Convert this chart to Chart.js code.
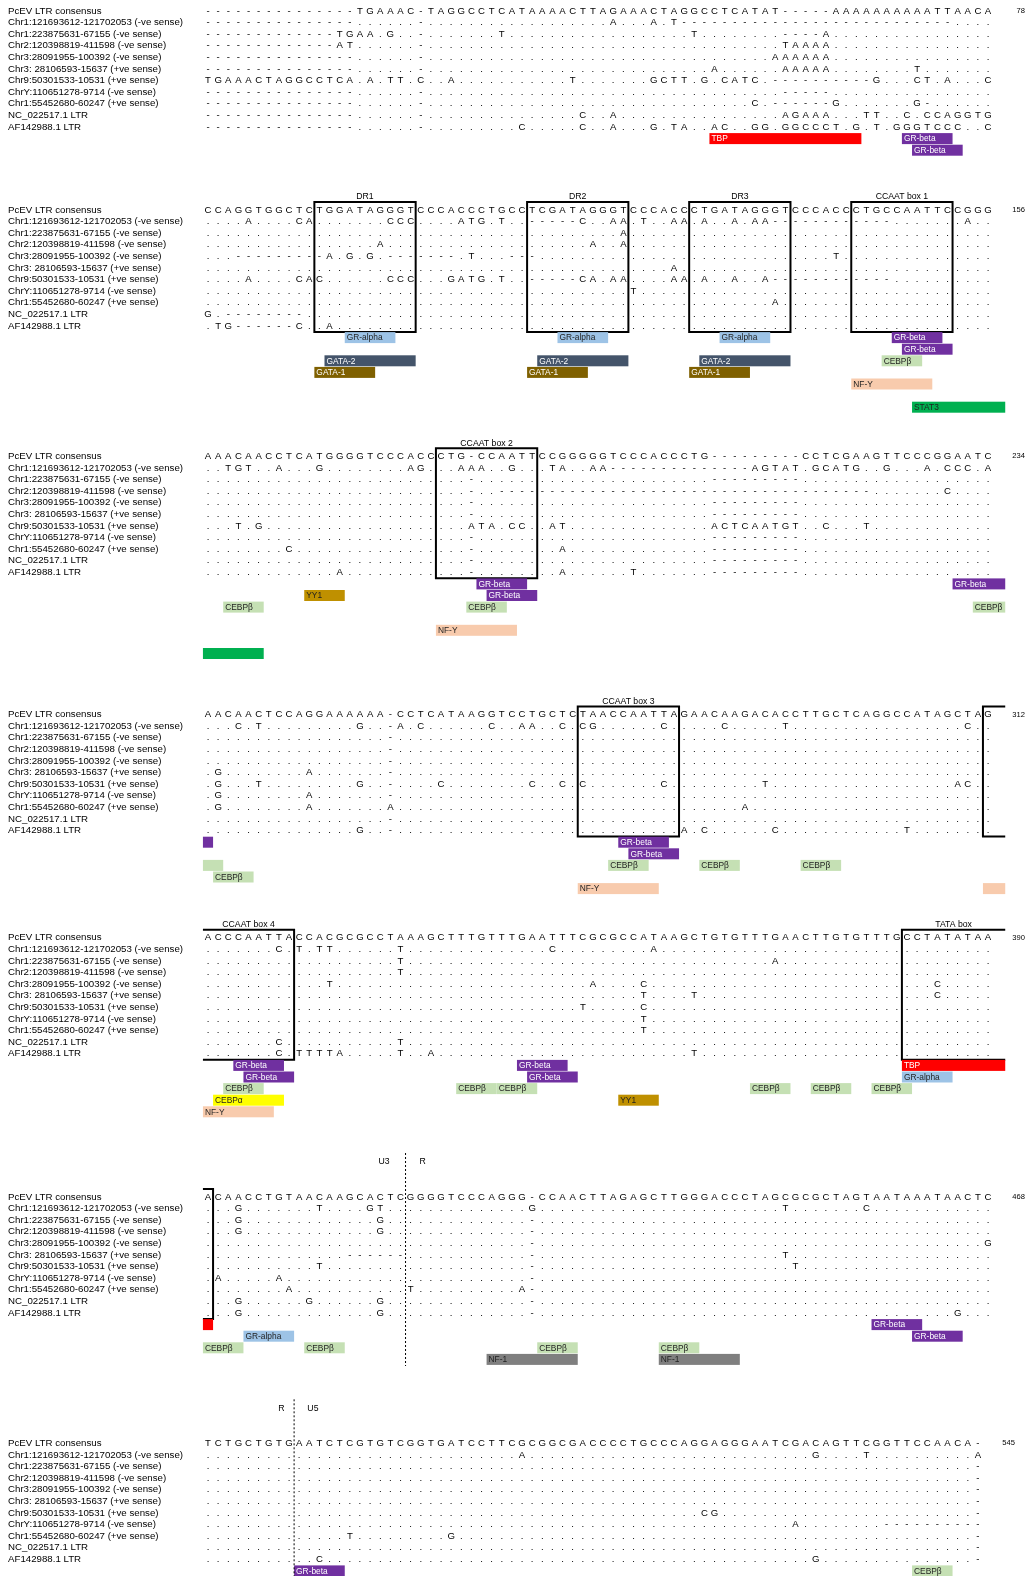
<!DOCTYPE html>
<html>
<head>
<meta charset="utf-8">
<title>PcEV LTR alignment</title>
<script src="https://cdn.jsdelivr.net/npm/chart.js@4.4.1/dist/chart.umd.min.js"></script>
<style>
  html, body { margin: 0; padding: 0; background: #ffffff; }
  #c { display: block; }
</style>
</head>
<body>
<canvas id="c" width="1030" height="1576"></canvas>
<script>
// ---- sequence names (one per alignment row) ----
const seqNames = [
  'PcEV LTR consensus',
  'Chr1:121693612-121702053 (-ve sense)',
  'Chr1:223875631-67155 (-ve sense)',
  'Chr2:120398819-411598 (-ve sense)',
  'Chr3:28091955-100392 (-ve sense)',
  'Chr3: 28106593-15637 (+ve sense)',
  'Chr9:50301533-10531 (+ve sense)',
  'ChrY:110651278-9714 (-ve sense)',
  'Chr1:55452680-60247 (+ve sense)',
  'NC_022517.1 LTR',
  'AF142988.1 LTR'
];

// alignment position printed at the end of each block
const blockEnds = [78, 156, 234, 312, 390, 468, 545];

// ---- alignment blocks: written in groups of ten columns ('.' = identical, '-' = gap) ----
const block1 = [
  '---------- -----TGAAA C-TAGGCCTC ATAAAACTTA GAAACTAGGC CTCATAT--- --AAAAAAAA AATTAACA',
  '---------- -----..... .-........ .......... A...A.T--- ---------- ---------- ----....',
  '---------- ---TGAA.G. .-.......T .......... ........T. .......--- -A........ ........',
  '---------- ---AT..... .-........ .......... .......... .......TAA AA........ ........',
  '---------- -----..... .-........ .......... .......... ......AAAA AA........ ........',
  '---------- -----..... .-........ .......... .......... A......AAA AA........ T.......',
  'TGAAACTAGG CCTCA.A.TT .C..A..... ......T... ....GCTT.G .CATC.---- ------G... CT.A...C',
  '---------- -----..... .-........ .......... .......... .......--- --........ ........',
  '---------- -----..... .-........ .......... .......... ....C.---- --G....... G-......',
  '---------- -----..... .-........ .......C.. A......... .......AGA AA...TT..C .CCAGGTG',
  '---------- -----..... .-........ .C.....C.. A...G.TA.. AC..GG.GGC CCT.G.T.GG GTCCC..C'
];
const block2 = [
  'CCAGGTGGCT CTGGATAGGG TCCCACCCTG CCTCGATAGG GTCCCACCCT GATAGGGTCC CACCCTGCCA ATTCCGGG',
  '....A....C A.......CC C....ATG.T ..-----C.. AA.T..AA.A ..A.AA---- --------.. .....A..',
  '.......... .......... .......... .......... .A........ .......... .......... ........',
  '.......... .......A.. .......... ........A. .A........ .......... .......... ........',
  '...------- --A.G.G.-- -----.T... ---....... .......... .......... ..T....... ........',
  '.......... .......... .......... .......... ......A... .......... .......... ........',
  '....A....C AC......CC C...GATG.T ..-----CA. AA....AA.A ..A..A---- --------.. ........',
  '.......... .......... .......... .......... ..T....... .......... .......... ........',
  '.......... .......... .......... .......... .......... ......A... .......... ........',
  'G.-------- .......... .......... .......... .......... .......... .......... ........',
  '.TG------C ..A....... .......... .......... .......... .......... .......... ........'
];
const block3 = [
  'AAACAACCTC ATGGGGTCCC ACCCTG-CCA ATTCCGGGGG TCCCACCCTG ---------C CTCGAAGTTC CCGGAATC',
  '..TGT..A.. .G........ AG...AAA.. G...TA..AA ---------- ----AGTAT. GCATG..G.. .A.CCC.A',
  '.......... .......... ......-... .......... .......... ---------. .......... ........',
  '.......... .......... ......-..- ---------- ---------- ---------- ------.... ...C....',
  '.......... .......... ......-... .......... .......... ---------. .......... ........',
  '.......... .......... ......-... .......... .......... ---------. .......... ........',
  '...T.G.... .......... ......ATA. CC..AT.... .......... ACTCAATGT. .C...T.... ........',
  '.......... .......... ......-... .......... .......... ---------. .......... ........',
  '........C. .......... ......-... .....A.... .......... ---------. .......... ........',
  '.......... .......... ......-... .......... .......... ---------. .......... ........',
  '.......... ...A...... ......-... .....A.... ..T....... ---------. .......... ........'
];
const block4 = [
  'AACAACTCCA GGAAAAAA-C CTCATAAGGT CCTGCTCTAA CCAATTAGAA CAAGACACCT TGCTCAGGCC ATAGCTAG',
  '...C.T.... .....G..-A .C......C. .AA..C.CG. .....C.... .C.....T.. .......... .....C..',
  '.......... ........-. .......... .......... .......... .......... .......... ........',
  '.......... ........-. .......... .......... .......... .......... .......... ........',
  '.......... ........-. .......... .......... .......... .......... .......... ........',
  '.G........ A.......-. .......... .......... .......... .......... .......... ........',
  '.G...T.... .....G..-. ...C...... ..C..C.C.. .....C.... .....T.... .......... ....AC..',
  '.G........ A.......-. .......... .......... .......... .......... .......... ........',
  '.G........ A.......A. .......... .......... .......... ...A...... .......... ........',
  '.......... ........-. .......... .......... .......... .......... .......... ........',
  '.......... .....G..-. .......... .......... .......A.C ......C... .........T ........'
];
const block5 = [
  'ACCCAATTAC CACGCGCCTA AAGCTTTGTT TGAATTTCGC GCCATAAGCT GTGTTTGAAC TTGTGTTTGC CTATATAA',
  '.......C.T .TT......T .......... ....C..... ....A..... .......... .......... ........',
  '.......... .........T .......... .......... .......... ......A... .......... ........',
  '.......... .........T .......... .......... .......... .......... .......... ........',
  '.......... ..T....... .......... ........A. ...C...... .......... .......... ..C.....',
  '.......... .......... .......... .......... ...T....T. .......... .......... ..C.....',
  '.......... .......... .......... .......T.. ...C...... .......... .......... ........',
  '.......... .......... .......... .......... ...T...... .......... .......... ........',
  '.......... .......... .......... .......... ...T...... .......... .......... ........',
  '.......C.. .........T .......... .......... .......... .......... .......... ........',
  '.......C.T TTTA.....T ..A....... .......... ........T. .......... .......... ........'
];
const block6 = [
  'ACAACCTGTA ACAAGCACTC GGGGTCCCAG GG-CCAACTT AGAGCTTGGG ACCCTAGCGC GCTAGTAATA AATAACTC',
  '...G...... .T....GT.. .......... ..G....... .......... .......T.. .....C.... ........',
  '...G...... .......G.. .......... ..-....... .......... .......... .......... ........',
  '...G...... .......G.. .......... ..-....... .......... .......... .......... ........',
  '.......... .......... .......... ..-....... .......... .......... .......... .......G',
  '.......... ....------ .......... ..-....... .......... .......T.. .......... ........',
  '.......... .T........ .......... ..-....... .......... ........T. .......... ........',
  '.A.....A.. .......... .......... ..-....... .......... .......... .......... ........',
  '........A. .......... T......... .A-....... .......... .......... .......... ........',
  '...G...... G......G.. .......... ..-....... .......... .......... .......... ........',
  '...G...... .......G.. .......... ..-....... .......... .......... .......... ....G...'
];
const block7 = [
  'TCTGCTGTGA ATCTCGTGTC GGTGATCCTT CGCGGCGACC CCTGCCCAGG AGGGAATCGA CAGTTCGGTT CCAACA-',
  '.......... .......... .......... .A........ .......... .......... G....T.... ......A',
  '.......... .......... .......... .......... .......... .......... .......... ......-',
  '.......... .......... .......... .......... .......... .......... .......... ......-',
  '.......... .......... .......... .......... .......... .......... .......... ......-',
  '.......... .......... .......... .......... .......... .......... .......... ......-',
  '.......... .......... .......... .......... .........C G......... .......... ......-',
  '.......... .......... .......... .......... .......... ........A. .......--- -------',
  '.......... ....T..... ....G..... .......... .......... .......... .......... ......-',
  '.......... .......... .......... .......... .......... .......... .......... ......-',
  '.......... .C........ .......... .......... .......... .......... G......... ......-'
];

// ---- boxed motifs (block index, first/last column, title; open side continues in next block) ----
const motifBoxes = [
  { block: 1, from: 11, to: 20, label: 'DR1' },
  { block: 1, from: 32, to: 41, label: 'DR2' },
  { block: 1, from: 48, to: 57, label: 'DR3' },
  { block: 1, from: 64, to: 73, label: 'CCAAT box 1' },
  { block: 2, from: 23, to: 32, label: 'CCAAT box 2' },
  { block: 3, from: 37, to: 46, label: 'CCAAT box 3' },
  { block: 3, from: 77, to: 77, label: '', open: 'right' },
  { block: 4, from: 0, to: 8, label: 'CCAAT box 4', open: 'left' },
  { block: 4, from: 69, to: 77, label: 'TATA box', open: 'right' },
  { block: 5, from: 0, to: 0, label: '', open: 'left' }
];

// ---- predicted transcription factor binding sites ----
// track = annotation line under a block; joins = site runs on from the previous / into the next block
const tfSites = [
  { block: 0, tf: 'TBP', from: 50, to: 64, track: 0 },
  { block: 0, tf: 'GR-beta', from: 69, to: 73, track: 0 },
  { block: 0, tf: 'GR-beta', from: 70, to: 74, track: 1 },

  { block: 1, tf: 'GR-alpha', from: 14, to: 18, track: 0 },
  { block: 1, tf: 'GATA-2', from: 12, to: 20, track: 2 },
  { block: 1, tf: 'GATA-1', from: 11, to: 16, track: 3 },
  { block: 1, tf: 'GR-alpha', from: 35, to: 39, track: 0 },
  { block: 1, tf: 'GATA-2', from: 33, to: 41, track: 2 },
  { block: 1, tf: 'GATA-1', from: 32, to: 37, track: 3 },
  { block: 1, tf: 'GR-alpha', from: 51, to: 55, track: 0 },
  { block: 1, tf: 'GATA-2', from: 49, to: 57, track: 2 },
  { block: 1, tf: 'GATA-1', from: 48, to: 53, track: 3 },
  { block: 1, tf: 'GR-beta', from: 68, to: 72, track: 0 },
  { block: 1, tf: 'GR-beta', from: 69, to: 73, track: 1 },
  { block: 1, tf: 'CEBPβ', from: 67, to: 70, track: 2 },
  { block: 1, tf: 'NF-Y', from: 64, to: 71, track: 4 },
  { block: 1, tf: 'STAT3', from: 70, to: 77, track: 6, joins: 'next' },

  { block: 2, tf: 'STAT3', from: 0, to: 5, track: 6, joins: 'prev' },
  { block: 2, tf: 'CEBPβ', from: 2, to: 5, track: 2 },
  { block: 2, tf: 'YY1', from: 10, to: 13, track: 1 },
  { block: 2, tf: 'GR-beta', from: 27, to: 31, track: 0 },
  { block: 2, tf: 'GR-beta', from: 28, to: 32, track: 1 },
  { block: 2, tf: 'CEBPβ', from: 26, to: 29, track: 2 },
  { block: 2, tf: 'NF-Y', from: 23, to: 30, track: 4 },
  { block: 2, tf: 'GR-beta', from: 74, to: 77, track: 0, joins: 'next' },
  { block: 2, tf: 'CEBPβ', from: 76, to: 77, track: 2, joins: 'next' },

  { block: 3, tf: 'GR-beta', from: 0, to: 0, track: 0, joins: 'prev' },
  { block: 3, tf: 'CEBPβ', from: 0, to: 1, track: 2, joins: 'prev' },
  { block: 3, tf: 'CEBPβ', from: 1, to: 4, track: 3 },
  { block: 3, tf: 'GR-beta', from: 41, to: 45, track: 0 },
  { block: 3, tf: 'GR-beta', from: 42, to: 46, track: 1 },
  { block: 3, tf: 'CEBPβ', from: 40, to: 43, track: 2 },
  { block: 3, tf: 'NF-Y', from: 37, to: 44, track: 4 },
  { block: 3, tf: 'CEBPβ', from: 49, to: 52, track: 2 },
  { block: 3, tf: 'CEBPβ', from: 59, to: 62, track: 2 },
  { block: 3, tf: 'NF-Y', from: 77, to: 77, track: 4, joins: 'next', quiet: true },

  { block: 4, tf: 'GR-beta', from: 3, to: 7, track: 0 },
  { block: 4, tf: 'GR-beta', from: 4, to: 8, track: 1 },
  { block: 4, tf: 'CEBPβ', from: 2, to: 5, track: 2 },
  { block: 4, tf: 'CEBPα', from: 1, to: 7, track: 3 },
  { block: 4, tf: 'NF-Y', from: 0, to: 6, track: 4 },
  { block: 4, tf: 'GR-beta', from: 31, to: 35, track: 0 },
  { block: 4, tf: 'GR-beta', from: 32, to: 36, track: 1 },
  { block: 4, tf: 'CEBPβ', from: 25, to: 28, track: 2 },
  { block: 4, tf: 'CEBPβ', from: 29, to: 32, track: 2 },
  { block: 4, tf: 'YY1', from: 41, to: 44, track: 3 },
  { block: 4, tf: 'CEBPβ', from: 54, to: 57, track: 2 },
  { block: 4, tf: 'CEBPβ', from: 60, to: 63, track: 2 },
  { block: 4, tf: 'CEBPβ', from: 66, to: 69, track: 2 },
  { block: 4, tf: 'TBP', from: 69, to: 77, track: 0, joins: 'next' },
  { block: 4, tf: 'GR-alpha', from: 69, to: 73, track: 1 },

  { block: 5, tf: 'TBP', from: 0, to: 0, track: 0, joins: 'prev' },
  { block: 5, tf: 'GR-alpha', from: 4, to: 8, track: 1 },
  { block: 5, tf: 'CEBPβ', from: 0, to: 3, track: 2 },
  { block: 5, tf: 'CEBPβ', from: 10, to: 13, track: 2 },
  { block: 5, tf: 'CEBPβ', from: 33, to: 36, track: 2 },
  { block: 5, tf: 'NF-1', from: 28, to: 36, track: 3 },
  { block: 5, tf: 'CEBPβ', from: 45, to: 48, track: 2 },
  { block: 5, tf: 'NF-1', from: 45, to: 52, track: 3 },
  { block: 5, tf: 'GR-beta', from: 66, to: 70, track: 0 },
  { block: 5, tf: 'GR-beta', from: 70, to: 74, track: 1 },

  { block: 6, tf: 'GR-beta', from: 9, to: 13, track: 0 },
  { block: 6, tf: 'CEBPβ', from: 70, to: 73, track: 0 }
];

// ---- U3 / R / U5 junctions (drawn between two columns) ----
const ltrBoundaries = [
  { block: 5, after: 19, left: 'U3', right: 'R' },
  { block: 6, after: 8, left: 'R', right: 'U5' }
];

// ---- styling ----
const tfColors = {
  'TBP': ['#ff0000', '#ffffff'],
  'GR-beta': ['#7030a0', '#ffffff'],
  'GR-alpha': ['#9dc3e6', '#1f1f1f'],
  'GATA-2': ['#44546a', '#ffffff'],
  'GATA-1': ['#7f6000', '#ffffff'],
  'CEBPβ': ['#c5e0b4', '#1f1f1f'],
  'CEBPα': ['#ffff00', '#1f1f1f'],
  'NF-Y': ['#f8cbad', '#1f1f1f'],
  'STAT3': ['#00b050', '#1f1f1f'],
  'YY1': ['#bf9000', '#1f1f1f'],
  'NF-1': ['#7f7f7f', '#1f1f1f']
};
const FONT = '"Liberation Sans", Arial, Helvetica, sans-serif';
const blockTop = [11, 210, 456.3, 714.6, 937.8, 1197, 1443.3];
const ROW = 11.6;
const OPEN_END = 1.7;                       // how far an open box / bar runs past the last column
const junctionLabelDx = [[-21.6, 17], [-12.7, 18.8]];

const blocks = [block1, block2, block3, block4, block5, block6, block7]
  .map(rows => rows.map(r => r.replace(/ /g, '')));

const alignmentPainter = {
  id: 'alignmentPainter',
  afterDraw(chart) {
    const { ctx } = chart;
    const xs = chart.scales.x, ys = chart.scales.y;
    const X = v => xs.getPixelForValue(v);
    const Y = v => ys.getPixelForValue(v);
    ctx.save();

    blocks.forEach((rows, b) => {
      const top = blockTop[b];
      // sequence names
      ctx.fillStyle = '#000';
      ctx.textBaseline = 'middle';
      ctx.textAlign = 'left';
      ctx.font = '9.7px ' + FONT;
      rows.forEach((_, r) => ctx.fillText(seqNames[r], 8, Y(top + r * ROW)));
      // residues
      ctx.textAlign = 'center';
      ctx.font = '9.6px ' + FONT;
      rows.forEach((seq, r) => {
        const cy = Y(top + r * ROW);
        for (let c = 0; c < seq.length; c++) {
          ctx.fillText(seq[c], X(c), cy);
        }
      });
      // position at block end
      ctx.textAlign = 'right';
      ctx.font = '7.6px ' + FONT;
      ctx.fillText(String(blockEnds[b]), X(rows[0].length - 1) + 37, Y(top));
    });

    // motif boxes
    ctx.strokeStyle = '#000';
    ctx.lineWidth = 2;
    motifBoxes.forEach(bx => {
      const top = blockTop[bx.block];
      const yT = Y(top - 8), yB = Y(top + 10 * ROW + 6);
      const xL = X(bx.from - 0.5);
      const xR = bx.open === 'right' ? X(bx.to + OPEN_END) : X(bx.to + 0.5);
      ctx.beginPath();
      ctx.moveTo(xL, yT); ctx.lineTo(xR, yT);
      ctx.moveTo(xL, yB); ctx.lineTo(xR, yB);
      if (bx.open !== 'left') { ctx.moveTo(xL, yT - 1); ctx.lineTo(xL, yB + 1); }
      if (bx.open !== 'right') { ctx.moveTo(xR, yT - 1); ctx.lineTo(xR, yB + 1); }
      ctx.stroke();
      if (bx.label) {
        ctx.fillStyle = '#000';
        ctx.textAlign = 'center';
        ctx.textBaseline = 'middle';
        ctx.font = '8.7px ' + FONT;
        ctx.fillText(bx.label, (xL + xR) / 2, Y(top - 13));
      }
    });

    // binding site bars
    ctx.textBaseline = 'middle';
    ctx.textAlign = 'left';
    ctx.font = '8.4px ' + FONT;
    tfSites.forEach(s => {
      const cy = Y(blockTop[s.block] + (11 + s.track) * ROW);
      const l = X(s.from - 0.5);
      const r = s.joins === 'next' ? X(s.to + OPEN_END) : X(s.to + 0.5);
      const [bg, fg] = tfColors[s.tf];
      ctx.fillStyle = bg;
      ctx.fillRect(l, cy - 5.5, r - l, 11);
      if (s.joins !== 'prev' && !s.quiet) {
        ctx.fillStyle = fg;
        ctx.fillText(s.tf, l + 2, cy + 0.5);
      }
    });

    // U3/R and R/U5 junctions
    ctx.strokeStyle = '#000';
    ctx.lineWidth = 1;
    ctx.setLineDash([2, 2]);
    ltrBoundaries.forEach((lb, i) => {
      const top = blockTop[lb.block];
      const xl = X(lb.after + 0.5);
      const yEnd = i === 0 ? Y(top + 169) : Y(1576);
      ctx.beginPath();
      ctx.moveTo(xl, Y(top - 44));
      ctx.lineTo(xl, yEnd);
      ctx.stroke();
    });
    ctx.setLineDash([]);
    ctx.fillStyle = '#000';
    ctx.textAlign = 'center';
    ctx.font = '8.7px ' + FONT;
    ltrBoundaries.forEach((lb, i) => {
      const top = blockTop[lb.block];
      const xl = X(lb.after + 0.5);
      ctx.fillText(lb.left, xl + junctionLabelDx[i][0], Y(top - 35));
      ctx.fillText(lb.right, xl + junctionLabelDx[i][1], Y(top - 35));
    });

    ctx.restore();
  }
};

// column c of every block sits at 208 + 10.13*c px; y runs in page pixels
const COL_W = 10.13, COL0 = 208;
new Chart(document.getElementById('c'), {
  type: 'scatter',
  data: { datasets: [] },
  options: {
    responsive: false,
    animation: false,
    devicePixelRatio: 1,
    layout: { padding: 0 },
    plugins: { legend: { display: false }, tooltip: { enabled: false }, title: { display: false } },
    scales: {
      x: { type: 'linear', min: -COL0 / COL_W, max: (1030 - COL0) / COL_W, display: false },
      y: { type: 'linear', min: 0, max: 1576, reverse: true, display: false }
    }
  },
  plugins: [alignmentPainter]
});
</script>
</body>
</html>
